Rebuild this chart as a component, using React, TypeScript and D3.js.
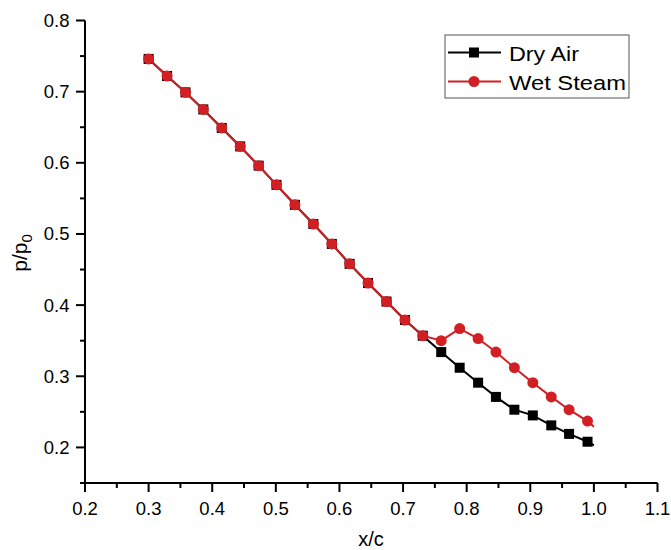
import React from "react";
import * as d3 from "d3";

const xValues = [0.300, 0.329, 0.358, 0.386, 0.415, 0.444, 0.473, 0.501, 0.530, 0.559, 0.588, 0.616, 0.645, 0.674, 0.703, 0.731, 0.760, 0.789, 0.818, 0.846, 0.875, 0.904, 0.933, 0.961, 0.990];
const dryAir = [0.746, 0.722, 0.699, 0.675, 0.649, 0.623, 0.596, 0.569, 0.541, 0.514, 0.486, 0.458, 0.431, 0.405, 0.379, 0.357, 0.334, 0.312, 0.291, 0.271, 0.253, 0.245, 0.231, 0.219, 0.208];
const wetSteam = [0.746, 0.722, 0.699, 0.675, 0.649, 0.623, 0.596, 0.569, 0.541, 0.514, 0.486, 0.458, 0.431, 0.405, 0.379, 0.357, 0.350, 0.367, 0.353, 0.334, 0.312, 0.291, 0.271, 0.253, 0.237];
// line end points (no marker) at x = 1.0
const lineEndX = 1.0;
const dryAirEnd = 0.203;
const wetSteamEnd = 0.229;

const xTicks = [0.2, 0.3, 0.4, 0.5, 0.6, 0.7, 0.8, 0.9, 1.0, 1.1];
const xTickLabels = ["0.2", "0.3", "0.4", "0.5", "0.6", "0.7", "0.8", "0.9", "1.0", "1.1"];
const yTicks = [0.2, 0.3, 0.4, 0.5, 0.6, 0.7, 0.8];
const yTickLabels = ["0.2", "0.3", "0.4", "0.5", "0.6", "0.7", "0.8"];
const xMinor = [0.25, 0.35, 0.45, 0.55, 0.65, 0.75, 0.85, 0.95, 1.05];
const yMinor = [0.15, 0.25, 0.35, 0.45, 0.55, 0.65, 0.75];

const RED = "#d11f24";
const BLACK = "#000000";
const FONT = "'Liberation Sans', Arial, sans-serif";

export default function App() {
  const x = d3.scaleLinear().domain([0.2, 1.1]).range([85, 657.5]);
  const y = d3.scaleLinear().domain([0.15, 0.8]).range([483, 20.5]);

  const line = d3
    .line<[number, number]>()
    .x((d) => x(d[0]))
    .y((d) => y(d[1]));

  const dryPts: [number, number][] = xValues.map((v, i) => [v, dryAir[i]]);
  const wetPts: [number, number][] = xValues.map((v, i) => [v, wetSteam[i]]);
  const dryLine = [...dryPts, [lineEndX, dryAirEnd] as [number, number]];
  const wetLine = [...wetPts, [lineEndX, wetSteamEnd] as [number, number]];

  const sq = 10;
  const r = 5.5;

  return (
    <svg
      width={671}
      height={550}
      style={{ position: "absolute", left: 0, top: 0, background: "#fff" }}
      fontFamily={FONT}
    >
      <rect x={0} y={0} width={671} height={550} fill="#fff" />
      {/* axes */}
      <line x1={x(0.2)} x2={x(1.1)} y1={y(0.15)} y2={y(0.15)} stroke="#000" strokeWidth={2} />
      <line x1={x(0.2)} x2={x(0.2)} y1={y(0.15)} y2={y(0.8)} stroke="#000" strokeWidth={2} />
      {xTicks.map((t, i) => (
        <g key={"xt" + i}>
          <line x1={x(t)} x2={x(t)} y1={y(0.15)} y2={y(0.15) + 9} stroke="#000" strokeWidth={2} />
          <text x={x(t)} y={514.5} textAnchor="middle" fontSize={18.5}>
            {xTickLabels[i]}
          </text>
        </g>
      ))}
      {xMinor.map((t, i) => (
        <line key={"xm" + i} x1={x(t)} x2={x(t)} y1={y(0.15)} y2={y(0.15) + 5} stroke="#000" strokeWidth={2} />
      ))}
      {yTicks.map((t, i) => (
        <g key={"yt" + i}>
          <line x1={x(0.2) - 9} x2={x(0.2)} y1={y(t)} y2={y(t)} stroke="#000" strokeWidth={2} />
          <text x={69.5} y={y(t) + 6.5} textAnchor="end" fontSize={18.5}>
            {yTickLabels[i]}
          </text>
        </g>
      ))}
      {yMinor.map((t, i) => (
        <line key={"ym" + i} x1={x(0.2) - 5} x2={x(0.2)} y1={y(t)} y2={y(t)} stroke="#000" strokeWidth={2} />
      ))}
      {/* axis titles */}
      <text x={371} y={546} textAnchor="middle" fontSize={20}>
        x/c
      </text>
      <text transform="translate(27,253) rotate(-90)" textAnchor="middle" fontSize={21}>
        p/p<tspan fontSize={15} dy={5}>0</tspan>
      </text>

      {/* Dry Air */}
      <path d={line(dryLine) || ""} fill="none" stroke={BLACK} strokeWidth={2} />
      {dryPts.map((p, i) => (
        <rect key={"d" + i} x={x(p[0]) - sq / 2} y={y(p[1]) - sq / 2} width={sq} height={sq} fill={BLACK} />
      ))}
      {/* Wet Steam */}
      <path d={line(wetLine) || ""} fill="none" stroke={RED} strokeWidth={2} />
      {wetPts.map((p, i) => (
        <circle key={"w" + i} cx={x(p[0])} cy={y(p[1])} r={r} fill={RED} />
      ))}

      {/* legend */}
      <rect x={445} y={35} width={184} height={63} fill="#fff" stroke="#555" strokeWidth={1} />
      <line x1={448} x2={501} y1={52.5} y2={52.5} stroke={BLACK} strokeWidth={2} />
      <rect x={474 - sq / 2} y={52.5 - sq / 2} width={sq} height={sq} fill={BLACK} />
      <text x={509} y={60.5} fontSize={20.5} textLength={70} lengthAdjust="spacingAndGlyphs">
        Dry Air
      </text>
      <line x1={448} x2={501} y1={81.5} y2={81.5} stroke={RED} strokeWidth={2} />
      <circle cx={474} cy={81.5} r={r} fill={RED} />
      <text x={509} y={90} fontSize={20.5} textLength={117} lengthAdjust="spacingAndGlyphs">
        Wet Steam
      </text>
    </svg>
  );
}
